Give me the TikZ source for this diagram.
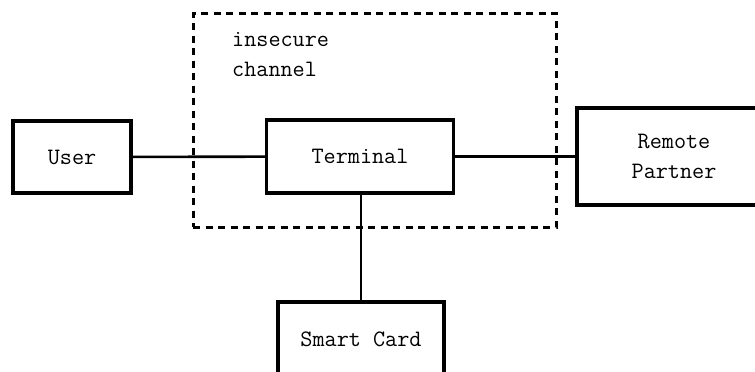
\documentclass[tikz,border=0pt]{standalone}
\usepackage{fontspec}
\usepackage{tikz}
\usetikzlibrary{positioning}

\tikzset{
  block/.style={draw, line width=3.2pt, align=center, inner sep=0pt},
  link/.style={line width=2.6pt},
  chanbox/.style={draw, line width=3pt, dash pattern=on 7pt off 5.5pt, inner sep=0pt}
}

\begin{document}
\begin{tikzpicture}[x=1pt, y=-1pt,
    every node/.style={font=\ttfamily\fontsize{23.5}{30}\selectfont}]
  \useasboundingbox (0,0) rectangle (755,372);

  % insecure channel region
  \node[chanbox, minimum width=363, minimum height=214] (chan) at (374.5,120) {};
  \node[anchor=north west, align=left, inner sep=0pt] (chanlbl) at (232,32) {insecure\\channel};

  \node[block, minimum width=118, minimum height=72] (user) at (72,157) {User};
  \node[block, minimum width=187, minimum height=73] (term) at (360,156.5) {Terminal};
  \node[block, minimum width=194, minimum height=97] (remote) at (674,156.5) {Remote\\Partner};
  \node[block, minimum width=166, minimum height=74] (card) at (361,339) {Smart Card};

  \draw[link] (user) -- (term);
  \draw[link] (term) -- (remote);
  \draw[link] (term.south -| card.north) -- (card);
\end{tikzpicture}
\end{document}
